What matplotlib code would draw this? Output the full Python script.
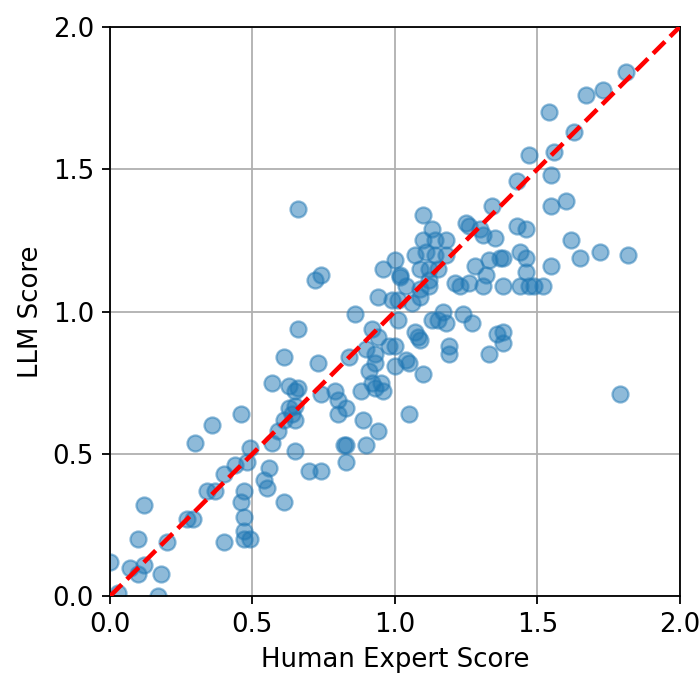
import numpy as np
import matplotlib
matplotlib.use("Agg")
import matplotlib.pyplot as plt

# scores
human = [0.00, 0.03, 0.07, 0.10, 0.12, 0.10, 0.12, 0.18, 0.17, 0.20,
         0.27, 0.29, 0.30, 0.34, 0.36, 0.37, 0.40, 0.40, 0.44, 0.46,
         0.46, 0.47, 0.47, 0.47, 0.47, 0.49, 0.48, 0.49, 0.54, 0.55,
         0.56, 0.57, 0.57, 0.59, 0.61, 0.61, 0.61, 0.63, 0.63, 0.65,
         0.65, 0.65, 0.66, 0.65, 0.64, 0.66, 0.66, 0.70, 0.72, 0.74,
         0.74, 0.73, 0.74, 0.79, 0.80, 0.80, 0.82, 0.83, 0.83, 0.84,
         0.83, 0.86, 0.88, 0.89, 0.90, 0.90, 0.91, 0.92, 0.92, 0.93,
         0.93, 0.93, 0.94, 0.94, 0.94, 0.95, 0.96, 0.96, 0.98, 0.99,
         1.00, 1.00, 1.00, 1.01, 1.01, 1.02, 1.02, 1.04, 1.04, 1.05,
         1.05, 1.06, 1.07, 1.07, 1.08, 1.09, 1.09, 1.09, 1.09, 1.10,
         1.10, 1.10, 1.11, 1.12, 1.12, 1.12, 1.13, 1.13, 1.14, 1.14,
         1.15, 1.15, 1.17, 1.18, 1.18, 1.18, 1.19, 1.19, 1.21, 1.23,
         1.24, 1.25, 1.26, 1.26, 1.27, 1.28, 1.30, 1.31, 1.31, 1.32,
         1.33, 1.33, 1.34, 1.35, 1.36, 1.37, 1.38, 1.38, 1.38, 1.38,
         1.43, 1.43, 1.44, 1.44, 1.46, 1.46, 1.46, 1.47, 1.47, 1.49,
         1.52, 1.54, 1.55, 1.55, 1.56, 1.55, 1.60, 1.62, 1.63, 1.65,
         1.67, 1.72, 1.73, 1.79, 1.81, 1.82]
llm = [0.12, 0.01, 0.10, 0.08, 0.11, 0.20, 0.32, 0.08, 0.00, 0.19,
       0.27, 0.27, 0.54, 0.37, 0.60, 0.37, 0.19, 0.43, 0.46, 0.33,
       0.64, 0.37, 0.20, 0.23, 0.28, 0.20, 0.47, 0.52, 0.41, 0.38,
       0.45, 0.54, 0.75, 0.58, 0.62, 0.33, 0.84, 0.66, 0.74, 0.67,
       0.51, 0.72, 0.73, 0.62, 0.64, 1.36, 0.94, 0.44, 1.11, 1.13,
       0.44, 0.82, 0.71, 0.72, 0.64, 0.69, 0.53, 0.53, 0.47, 0.84,
       0.66, 0.99, 0.72, 0.62, 0.53, 0.87, 0.79, 0.75, 0.94, 0.73,
       0.85, 0.82, 0.58, 1.05, 0.91, 0.75, 0.72, 1.15, 0.88, 1.04,
       0.88, 0.81, 1.18, 1.04, 0.97, 1.13, 1.12, 1.09, 0.83, 0.82,
       0.64, 1.03, 0.93, 1.20, 0.91, 0.90, 1.15, 1.05, 1.08, 0.78,
       1.34, 1.25, 1.21, 1.11, 1.09, 1.15, 1.29, 0.97, 1.25, 1.20,
       1.15, 0.97, 1.00, 0.96, 1.25, 1.20, 0.88, 0.85, 1.10, 1.09,
       0.99, 1.31, 1.10, 1.30, 0.96, 1.16, 1.29, 1.27, 1.09, 1.13,
       1.18, 0.85, 1.37, 1.26, 0.92, 1.19, 1.19, 1.09, 0.93, 0.89,
       1.46, 1.30, 1.09, 1.21, 1.29, 1.19, 1.14, 1.55, 1.09, 1.09,
       1.09, 1.70, 1.16, 1.48, 1.56, 1.37, 1.39, 1.25, 1.63, 1.19,
       1.76, 1.21, 1.78, 0.71, 1.84, 1.20]

plt.rcParams['font.size'] = 11.5
dpi = 163
fig = plt.figure(figsize=(700 / dpi, 673 / dpi), dpi=dpi)
ax = fig.add_axes([0.157, 0.114, 0.814, 0.846])
ax.scatter(human, llm, s=50, alpha=0.5, color="tab:blue", zorder=2)
ax.plot([0, 2], [0, 2], "r--", lw=2, zorder=3)
ax.set_xlim(0, 2)
ax.set_ylim(0, 2)
ax.set_xticks(np.arange(0, 2.01, 0.5))
ax.set_yticks(np.arange(0, 2.01, 0.5))
ax.grid(True, zorder=0)
ax.set_axisbelow(True)
ax.set_xlabel("Human Expert Score")
ax.set_ylabel("LLM Score")
fig.savefig("out.png", dpi=dpi)
